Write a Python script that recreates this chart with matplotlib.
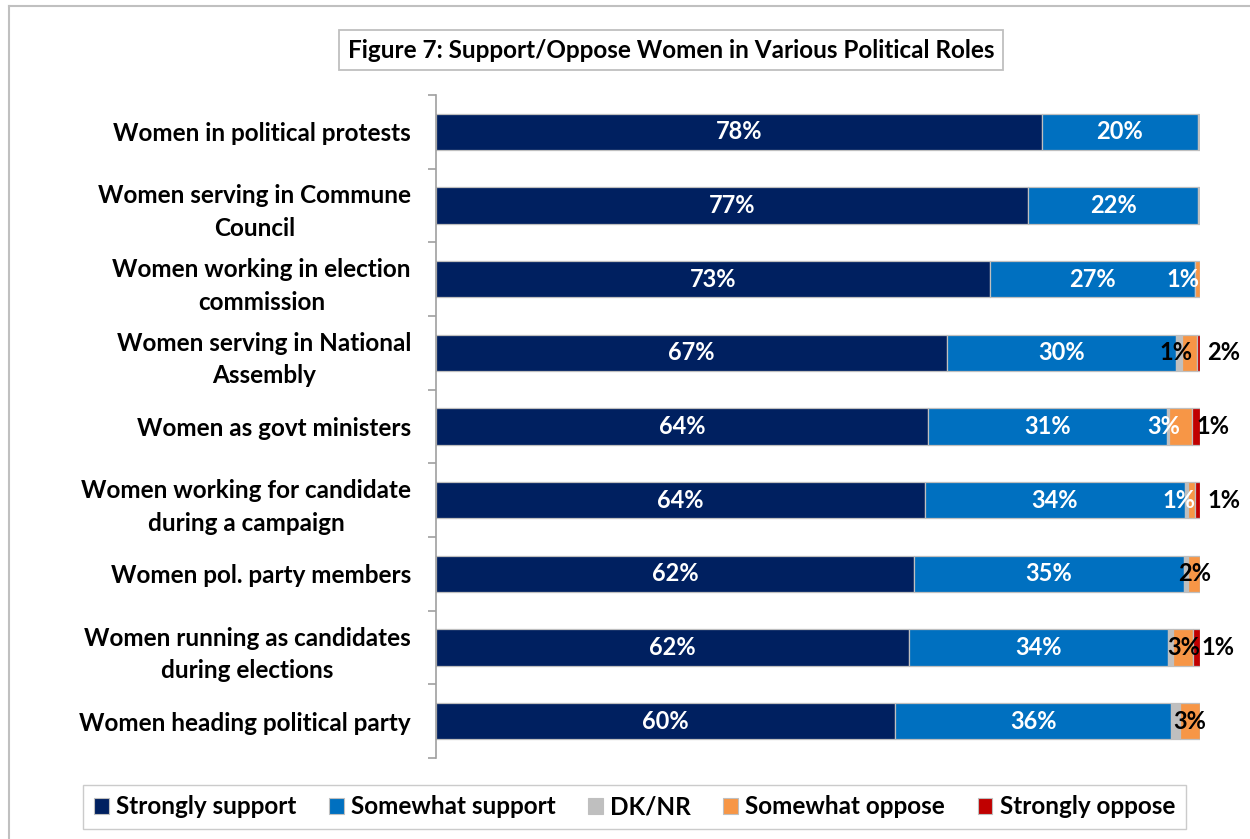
import matplotlib.pyplot as plt
from matplotlib.lines import Line2D
from matplotlib.patches import Patch
import numpy as np

plt.rcParams['font.family'] = ['Lato', 'DejaVu Sans']

TITLE = 'Figure 7: Support/Oppose Women in Various Political Roles'
ROLES = [
    'Women in political protests',
    'Women serving in Commune\nCouncil',
    'Women working in election\ncommission',
    'Women serving in National\nAssembly',
    'Women as govt ministers',
    'Women working for candidate\nduring a campaign',
    'Women pol. party members',
    'Women running as candidates\nduring elections',
    'Women heading political party',
]
SERIES = ['Strongly support', 'Somewhat support', 'DK/NR', 'Somewhat oppose', 'Strongly oppose']
STRONGLY_SUPPORT = [78, 77, 73, 67, 64, 64, 62, 62, 60]
SOMEWHAT_SUPPORT = [20, 22, 27, 30, 31, 34, 35, 34, 36]
DK_NR = [0.3, 0.3, 0, 0.7, 0.3, 0.4, 0.6, 0.7, 1.2]
SOMEWHAT_OPPOSE = [0, 0, 0.6, 2, 3, 1, 1.5, 2.6, 2.6]
STRONGLY_OPPOSE = [0, 0, 0, 0.4, 1, 0.6, 0, 0.9, 0]

COLORS = ['#002060', '#0070C0', '#BFBFBF', '#F79646', '#C00000']
EDGE = '#BFBFBF'
FS = 17.5

# labels on the thin segments: row -> (x offset in pixels, colour)
SMALL_LABELS = {
    'DK/NR': {3: (-3, 'black')},
    'Somewhat oppose': {2: (-15, 'white'), 3: (34, 'black'), 4: (-17, 'white'),
                        5: (-13, 'white'), 6: (0, 'black'), 7: (0, 'black'), 8: (0, 'black')},
    'Strongly oppose': {4: (17, 'black'), 5: (26, 'black'), 7: (21, 'black')},
}

W, H = 1250, 839
fig = plt.figure(figsize=(W / 100, H / 100), dpi=100)
ax = fig.add_axes([436 / W, 1 - 758 / H, (1200 - 436) / W, (758 - 95) / H])

data = np.array([STRONGLY_SUPPORT, SOMEWHAT_SUPPORT, DK_NR, SOMEWHAT_OPPOSE, STRONGLY_OPPOSE], dtype=float)
totals = data.sum(axis=0)
pct = data / totals * 100
y = np.arange(len(ROLES))
left = np.zeros(len(ROLES))

for k, name in enumerate(SERIES):
    ax.barh(y, pct[k], left=left, height=0.49, color=COLORS[k], edgecolor=EDGE,
            linewidth=0.9, label=name, zorder=2)
    for i in range(len(ROLES)):
        val = data[k, i]
        cx = left[i] + pct[k, i] / 2
        txt = f'{round(val):d}%'
        if k < 2:
            ax.text(cx, y[i], txt, ha='center', va='center', color='white',
                    fontsize=17, fontweight='bold', zorder=4)
        elif i in SMALL_LABELS.get(name, {}):
            dx, col = SMALL_LABELS[name][i]
            ax.annotate(txt, (cx, y[i]), xytext=(dx, 0), textcoords='offset pixels',
                        ha='center', va='center', color=col, fontsize=17,
                        fontweight='bold', zorder=4)
    left += pct[k]

ax.set_xlim(0, 100)
ax.set_ylim(len(ROLES) - 0.5, -0.5)
ax.xaxis.set_visible(False)
for s in ['top', 'right', 'bottom']:
    ax.spines[s].set_visible(False)
ax.spines['left'].set_color('#A0A0A0')
ax.spines['left'].set_linewidth(1.2)
ax.set_yticks(y)
ax.set_yticklabels(ROLES, fontsize=FS, fontweight='bold', multialignment='center',
                   linespacing=1.5)
ax.tick_params(axis='y', which='major', length=0, pad=18)
ax.set_yticks(np.arange(len(ROLES) + 1) - 0.5, minor=True)
ax.tick_params(axis='y', which='minor', length=6, width=1.2, color='#A0A0A0')

fig.text(671 / W, 1 - 50 / H, TITLE, ha='center', va='center', fontsize=FS,
         fontweight='bold',
         bbox=dict(boxstyle='square,pad=0.35', fc='white', ec='#BFBFBF', lw=1.3))

handles = [Patch(facecolor=c, edgecolor=EDGE, linewidth=0.8) for c in COLORS]
fig.legend(handles, SERIES, loc='center', bbox_to_anchor=(71 / W, 1 - 831 / H, 1127 / W, 48 / H),
           mode='expand', ncol=5, frameon=True, fancybox=False,
           edgecolor='#BFBFBF', handlelength=0.6, handleheight=0.6, handletextpad=0.3,
           borderpad=0.45, prop={'weight': 'bold', 'size': FS})

# outer chart border (cropped at right and bottom)
fig.add_artist(Line2D([9 / W, 9 / W], [0, 1 - 6 / H], transform=fig.transFigure,
                      color='#C0C0C0', lw=1.5))
fig.add_artist(Line2D([9 / W, 1], [1 - 6 / H, 1 - 6 / H], transform=fig.transFigure,
                      color='#C0C0C0', lw=1.5))

fig.savefig('out.png', dpi=100)
